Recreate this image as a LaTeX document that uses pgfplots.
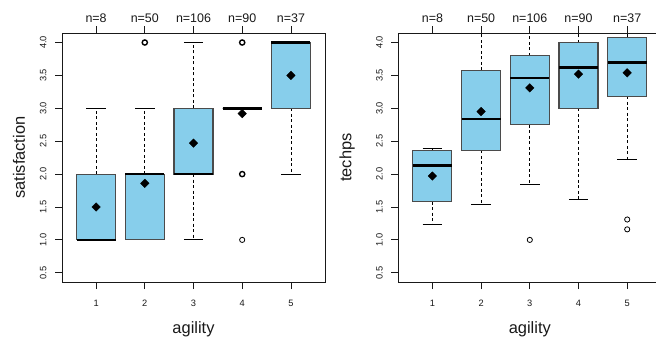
\documentclass[border=0pt]{standalone}
\usepackage{pgfplots}
\pgfplotsset{compat=1.18}
\usepgfplotslibrary{statistics}
\usepackage{fontspec}
\setmainfont{Liberation Sans}

\definecolor{skyblue}{RGB}{135,206,235}
\definecolor{boxedge}{RGB}{75,75,75}
\definecolor{ink}{RGB}{25,25,25}

\newcommand{\tickfont}{\fontsize{9.3}{10}\selectfont}
\newcommand{\nfont}{\fontsize{12.5}{13}\selectfont}
\newcommand{\labfont}{\fontsize{16.5}{18}\selectfont}

\pgfplotsset{
  panel/.style={
    anchor=south west, scale only axis,
    width=263bp, height=248.7bp,
    xmin=0.3, xmax=5.7, ymin=0.36, ymax=4.14,
    /pgf/number format/assume math mode=true,
    axis line style={ink, line width=0.8bp},
    every tick/.style={ink, line width=0.8bp},
    tick align=outside, major tick length=7bp,
    xtick={1,2,3,4,5}, xticklabels={1,2,3,4,5},
    xtick pos=left, ytick pos=left,
    ytick={0.5,1,1.5,2,2.5,3,3.5,4},
    yticklabels={0.5,1.0,1.5,2.0,2.5,3.0,3.5,4.0},
    xticklabel style={font=\tickfont, text=ink},
    yticklabel style={font=\tickfont, text=ink, rotate=90, anchor=south},
    xticklabel shift=8bp, yticklabel shift=5bp,
    xlabel style={font=\labfont, text=ink, at={(axis description cs:0.5,-0.2071)}, anchor=base},
    ylabel style={font=\labfont, text=ink, anchor=base},
    boxplot/draw direction=y,
    boxplot/box extend=0.8,
    boxplot/whisker extend=0.4,
    boxplot/every box/.style={draw=boxedge, fill=skyblue, line width=1.1bp},
    boxplot/every median/.style={draw=black, line width=2.6bp},
    boxplot/every whisker/.style={draw=black, line width=0.8bp},
    boxplot/draw/lower whisker/.code={
      \draw[/pgfplots/boxplot/every whisker/.try, dash pattern=on 3bp off 2.5bp]
        (boxplot cs:\pgfplotsboxplotvalue{lower quartile})
        -- (boxplot cs:\pgfplotsboxplotvalue{lower whisker});
      \draw[/pgfplots/boxplot/every whisker/.try]
        (boxplot whisker cs:\pgfplotsboxplotvalue{lower whisker},0)
        -- (boxplot whisker cs:\pgfplotsboxplotvalue{lower whisker},1);
    },
    boxplot/draw/upper whisker/.code={
      \draw[/pgfplots/boxplot/every whisker/.try, dash pattern=on 3bp off 2.5bp]
        (boxplot cs:\pgfplotsboxplotvalue{upper quartile})
        -- (boxplot cs:\pgfplotsboxplotvalue{upper whisker});
      \draw[/pgfplots/boxplot/every whisker/.try]
        (boxplot whisker cs:\pgfplotsboxplotvalue{upper whisker},0)
        -- (boxplot whisker cs:\pgfplotsboxplotvalue{upper whisker},1);
    },
  },
  countaxis/.style={
    anchor=south west, scale only axis,
    width=263bp, height=248.7bp,
    xmin=0.3, xmax=5.7, ymin=0.36, ymax=4.14,
    hide y axis, axis x line*=top,
    axis line style={ink, line width=0.8bp},
    every tick/.style={ink, line width=0.8bp},
    tick align=outside, major tick length=7bp,
    xtick={1,2,3,4,5},
    xticklabels={n=8,n=50,n=106,n=90,n=37},
    xticklabel style={font=\nfont, text=ink},
  },
  meanmarks/.style={only marks, mark=square*, mark size=3bp,
    mark options={rotate=45, fill=black, draw=black}},
  outl/.style={only marks, mark=o, mark size=2.6bp,
    mark options={draw=black, line width=#1}},
}

\begin{document}
\begin{tikzpicture}
% ---------- satisfaction by agility ----------
\begin{axis}[panel, at={(62bp,59bp)}, xlabel={agility}, ylabel={satisfaction},
  ylabel style={at={(axis description cs:-0.1407,0.5)}}]
\addplot[boxplot prepared={draw position=1, lower whisker=1, lower quartile=1,
  median=1, upper quartile=2, upper whisker=3}] coordinates {};
\addplot[boxplot prepared={draw position=2, lower whisker=1, lower quartile=1,
  median=2, upper quartile=2, upper whisker=3}] coordinates {};
\addplot[boxplot prepared={draw position=3, lower whisker=1, lower quartile=2,
  median=2, upper quartile=3, upper whisker=4}] coordinates {};
\addplot[boxplot prepared={draw position=4, lower whisker=3, lower quartile=3,
  median=3, upper quartile=3, upper whisker=3}] coordinates {};
\addplot[boxplot prepared={draw position=5, lower whisker=2, lower quartile=3,
  median=4, upper quartile=4, upper whisker=4}] coordinates {};
% outliers
\addplot[outl=1.4bp] coordinates {(2,4) (4,4) (4,2)};
\addplot[outl=0.8bp] coordinates {(4,1)};
% group means
\addplot[meanmarks] coordinates {(1,1.5) (2,1.86) (3,2.47) (4,2.92) (5,3.5)};
\end{axis}
\begin{axis}[countaxis, at={(62bp,59bp)}]
\addplot[draw=none] coordinates {(1,1)};
\end{axis}

% ---------- techps by agility ----------
\begin{axis}[panel, at={(398.3bp,59bp)}, xlabel={agility}, ylabel={techps},
  ylabel style={at={(axis description cs:-0.178,0.5)}}]
\addplot[boxplot prepared={draw position=1, lower whisker=1.23, lower quartile=1.58,
  median=2.13, upper quartile=2.36, upper whisker=2.39}] coordinates {};
\addplot[boxplot prepared={draw position=2, lower whisker=1.54, lower quartile=2.36,
  median=2.84, upper quartile=3.575, upper whisker=4.4}] coordinates {};
\addplot[boxplot prepared={draw position=3, lower whisker=1.85, lower quartile=2.75,
  median=3.46, upper quartile=3.80, upper whisker=4.4}] coordinates {};
\addplot[boxplot prepared={draw position=4, lower whisker=1.61, lower quartile=3.0,
  median=3.62, upper quartile=4.0, upper whisker=4.4}] coordinates {};
\addplot[boxplot prepared={draw position=5, lower whisker=2.23, lower quartile=3.18,
  median=3.70, upper quartile=4.08, upper whisker=4.4}] coordinates {};
% outliers
\addplot[outl=0.8bp] coordinates {(3,1.0) (5,1.31) (5,1.16)};
% group means
\addplot[meanmarks] coordinates {(1,1.97) (2,2.95) (3,3.31) (4,3.52) (5,3.54)};
\end{axis}
\begin{axis}[countaxis, at={(398.3bp,59bp)}]
\addplot[draw=none] coordinates {(1,1)};
\end{axis}

\pgfresetboundingbox
\useasboundingbox (0,0) rectangle (656bp,341bp);
\end{tikzpicture}
\end{document}
